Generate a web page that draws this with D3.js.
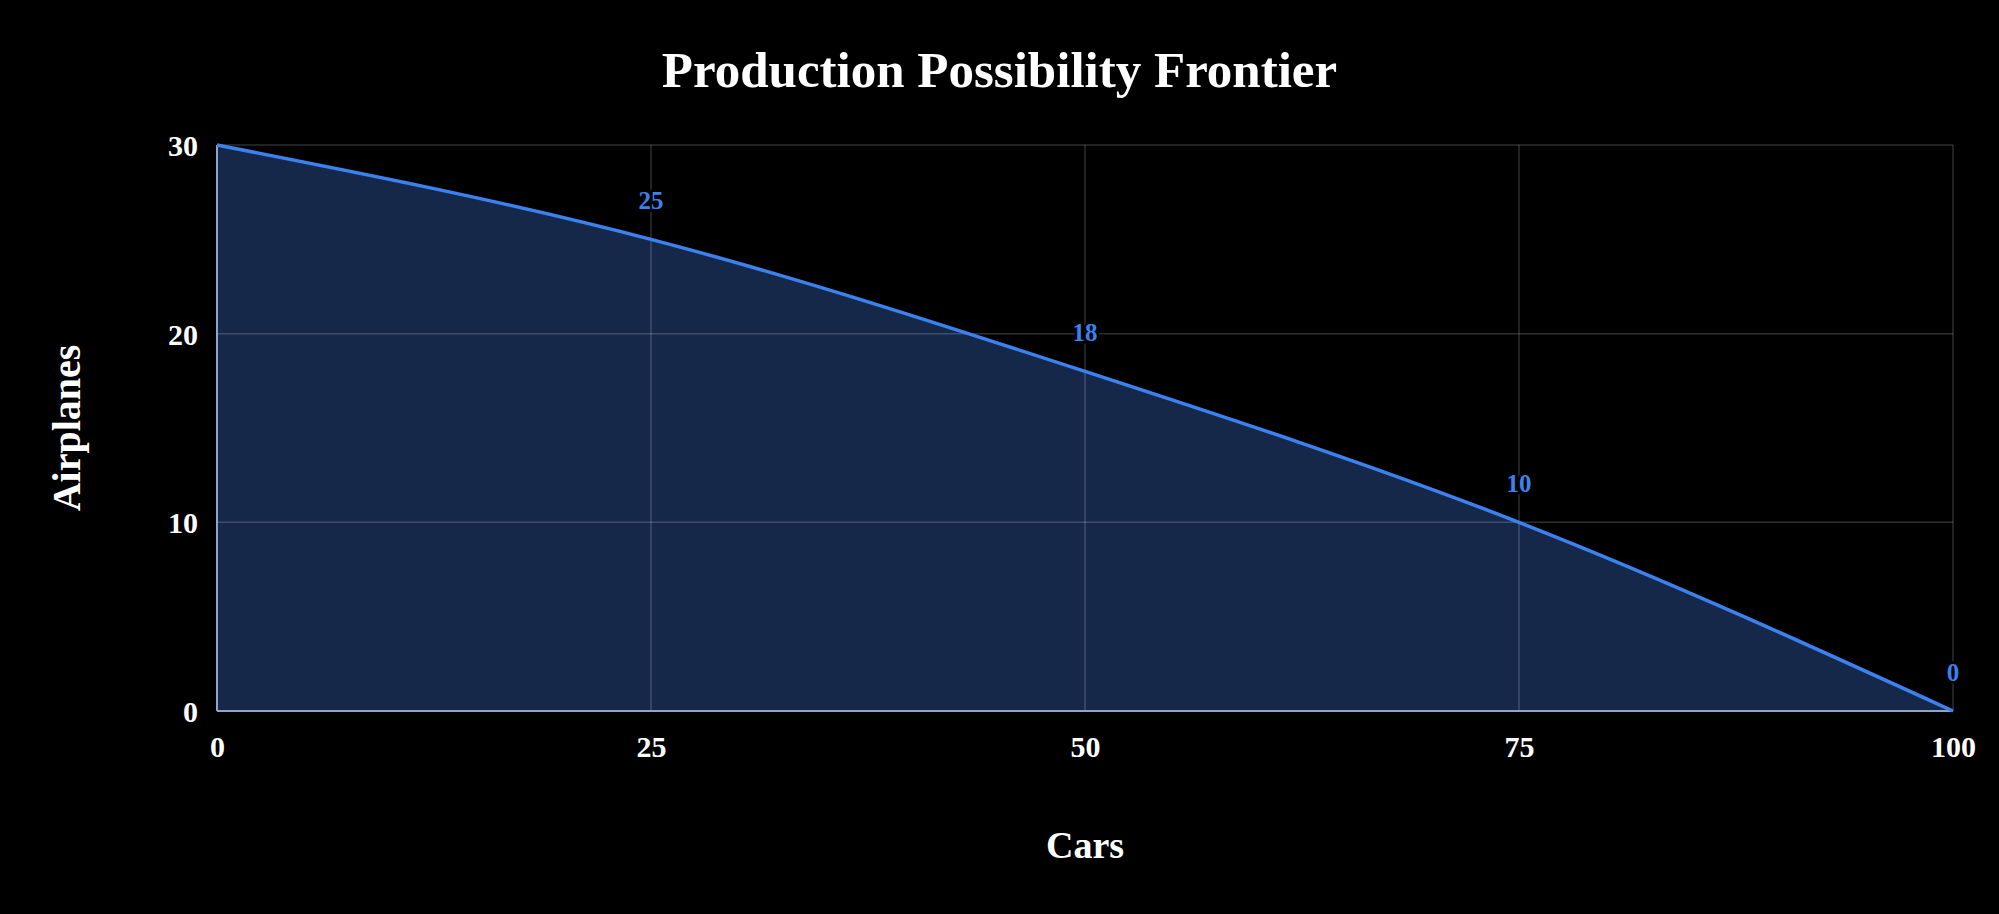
<!DOCTYPE html>
<html>
<head>
<meta charset="utf-8">
<script src="https://cdn.jsdelivr.net/npm/d3@7"></script>
<style>
  html, body { margin: 0; padding: 0; background: #000; }
  svg { display: block; }
  text { font-family: "Liberation Serif", "Times New Roman", serif; }
</style>
</head>
<body>
<svg id="chart" width="1999" height="914"></svg>
<script>
// ---- data ----
const cars = [0, 25, 50, 75, 100];
const airplanes = [30, 25, 18, 10, 0];
const xTicks = [0, 25, 50, 75, 100];
const yTicks = [0, 10, 20, 30];
const title = "Production Possibility Frontier";
const xTitle = "Cars";
const yTitle = "Airplanes";

const W = 1999, H = 914;
const margin = { left: 217, right: W - 1953, top: 145, bottom: H - 711 };
const svg = d3.select("#chart");
svg.append("rect").attr("width", W).attr("height", H).attr("fill", "#000");

const x = d3.scaleLinear().domain([0, 100]).range([margin.left, W - margin.right]);
const y = d3.scaleLinear().domain([0, 30]).range([H - margin.bottom, margin.top]);

const pts = cars.map((c, i) => ({ x: c, y: airplanes[i] }));

// clip for data labels (plot area)
svg.append("defs").append("clipPath").attr("id", "plotclip").append("rect")
  .attr("x", x(0) - 20).attr("y", y(30)).attr("width", x(100) - x(0) + 40).attr("height", y(0) - y(30));

// area fill
const area = d3.area().curve(d3.curveMonotoneX)
  .x(d => x(d.x)).y0(y(0)).y1(d => y(d.y));
svg.append("path").datum(pts).attr("d", area).attr("fill", "#15284a");

// gridlines
const grid = svg.append("g");
grid.selectAll(".gx").data(xTicks.filter(t => t !== 0)).enter().append("line")
  .attr("x1", d => x(d)).attr("x2", d => x(d))
  .attr("y1", y(30)).attr("y2", y(0))
  .attr("stroke", "#ffffff").attr("stroke-opacity", 0.18).attr("stroke-width", 1.5);
grid.selectAll(".gy").data(yTicks.filter(t => t !== 0)).enter().append("line")
  .attr("x1", x(0)).attr("x2", x(100))
  .attr("y1", d => y(d)).attr("y2", d => y(d))
  .attr("stroke", "#ffffff").attr("stroke-opacity", 0.18).attr("stroke-width", 1.5);

// axes (lines)
svg.append("line").attr("x1", x(0)).attr("x2", x(100)).attr("y1", y(0)).attr("y2", y(0))
  .attr("stroke", "#93a3c3").attr("stroke-width", 2);
svg.append("line").attr("x1", x(0)).attr("x2", x(0)).attr("y1", y(30)).attr("y2", y(0))
  .attr("stroke", "#93a3c3").attr("stroke-width", 2);

// frontier line
const line = d3.line().curve(d3.curveMonotoneX).x(d => x(d.x)).y(d => y(d.y));
svg.append("path").datum(pts).attr("d", line)
  .attr("fill", "none").attr("stroke", "#3b82f0").attr("stroke-width", 3.5);

// axes tick labels via d3 axes
const xAxis = d3.axisBottom(x).tickValues(xTicks).tickSize(0).tickPadding(0);
const gx = svg.append("g").attr("transform", `translate(0,${y(0)})`).call(xAxis);
gx.select(".domain").remove();
gx.selectAll("text").attr("fill", "#fff").attr("font-size", 30).attr("font-weight", "bold")
  .attr("font-family", "Liberation Serif, serif").attr("dy", null).attr("y", 46);

const yAxis = d3.axisLeft(y).tickValues(yTicks).tickSize(0).tickPadding(19);
const gy = svg.append("g").attr("transform", `translate(${x(0)},0)`).call(yAxis);
gy.select(".domain").remove();
gy.selectAll("text").attr("fill", "#fff").attr("font-size", 30).attr("font-weight", "bold")
  .attr("font-family", "Liberation Serif, serif").attr("dy", "0.35em");

// data labels (clipped to plot area)
svg.append("g").attr("clip-path", "url(#plotclip)").selectAll("text").data(pts).enter().append("text")
  .attr("x", d => x(d.x)).attr("y", d => y(d.y) - 30)
  .attr("text-anchor", "middle").attr("font-size", 25).attr("font-weight", 600)
  .attr("fill", "#3b82f0")
  .attr("stroke", "#000").attr("stroke-width", 5).attr("paint-order", "stroke")
  .text(d => d.y);

// titles
svg.append("text").attr("x", W / 2).attr("y", 87).attr("text-anchor", "middle")
  .attr("font-size", 51).attr("font-weight", "bold").attr("fill", "#fff").text(title);
svg.append("text").attr("x", (x(0) + x(100)) / 2).attr("y", 858).attr("text-anchor", "middle")
  .attr("font-size", 38).attr("font-weight", "bold").attr("fill", "#fff").text(xTitle);
svg.append("text").attr("transform", `translate(80,${(y(0) + y(30)) / 2}) rotate(-90)`)
  .attr("text-anchor", "middle")
  .attr("font-size", 40).attr("font-weight", "bold").attr("fill", "#fff").text(yTitle);
</script>
</body>
</html>
